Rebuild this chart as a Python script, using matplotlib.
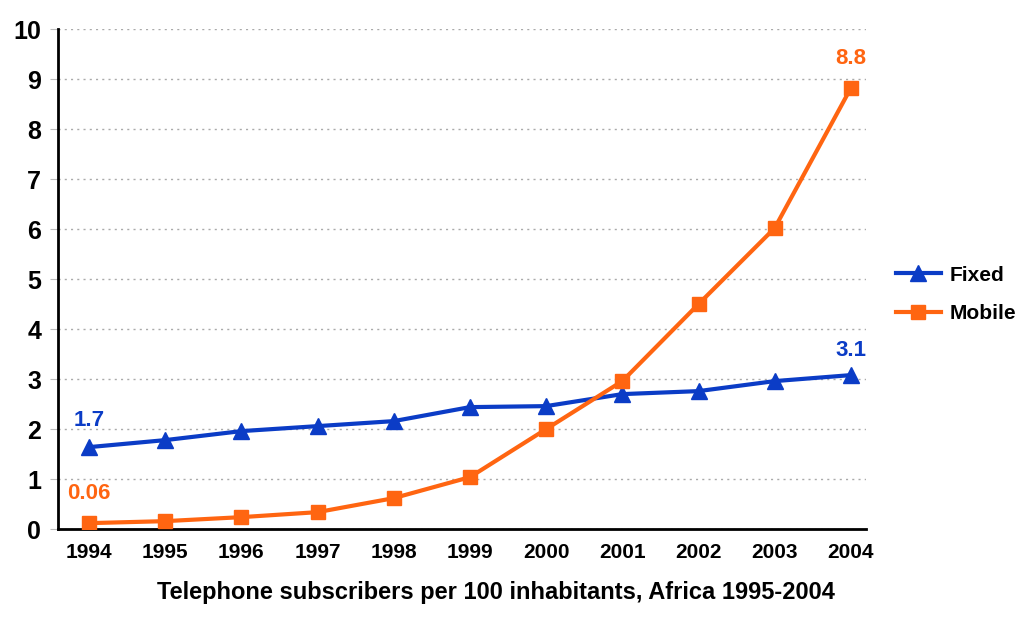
import matplotlib.pyplot as plt

plt.rcParams['font.family'] = ['Liberation Sans', 'DejaVu Sans']
plt.rcParams['font.weight'] = 'bold'

years = [1994, 1995, 1996, 1997, 1998, 1999, 2000, 2001, 2002, 2003, 2004]
fixed = [1.64, 1.78, 1.96, 2.06, 2.16, 2.44, 2.46, 2.70, 2.76, 2.96, 3.08]
mobile = [0.12, 0.16, 0.24, 0.34, 0.62, 1.04, 2.00, 2.96, 4.50, 6.02, 8.82]

blue = '#0b3cc6'
orange = '#ff6511'

fig = plt.figure(figsize=(10.24, 6.24), dpi=100)
ax = fig.add_axes([0.0566, 0.152, 0.789, 0.8015])

ax.plot(years, fixed, color=blue, lw=3, marker='^', ms=11, label='Fixed', zorder=3)
ax.plot(years, mobile, color=orange, lw=3, marker='s', ms=10, label='Mobile', zorder=3)

ax.set_xlim(1993.593, 2004.197)
ax.set_ylim(0, 10)
ax.set_xticks(years)
ax.set_yticks(range(0, 11))
ax.tick_params(axis='x', length=0, pad=10, labelsize=15)
ax.tick_params(axis='y', length=6, color='#bbbbbb', pad=6, labelsize=18)
for lab in ax.get_xticklabels() + ax.get_yticklabels():
    lab.set_fontweight('bold')

ax.grid(axis='y', color='#aaaaaa', linestyle=(0, (1.5, 3)), lw=1)
ax.set_axisbelow(True)
for s in ['top', 'right']:
    ax.spines[s].set_visible(False)
ax.spines['left'].set_linewidth(2)
ax.spines['bottom'].set_linewidth(2)

# end labels
ax.text(years[0], 1.96, '1.7', color=blue, fontsize=16, fontweight='bold', ha='center', va='bottom')
ax.text(years[0], 0.5, '0.06', color=orange, fontsize=16, fontweight='bold', ha='center', va='bottom')
ax.text(years[-1], 9.2, '8.8', color=orange, fontsize=16, fontweight='bold', ha='center', va='bottom')
ax.text(years[-1], 3.37, '3.1', color=blue, fontsize=16, fontweight='bold', ha='center', va='bottom')

fig.text(496 / 1024, 1 - 593 / 624, 'Telephone subscribers per 100 inhabitants, Africa 1995-2004',
         fontsize=17, fontweight='bold', ha='center', va='center')

ax.legend(loc='center left', bbox_to_anchor=(1.037, 0.469), frameon=False,
          borderaxespad=0, borderpad=0, handlelength=2.15, handletextpad=0.45,
          labelspacing=0.95, prop={'weight': 'bold', 'size': 15})

fig.savefig('out.png', dpi=100)
